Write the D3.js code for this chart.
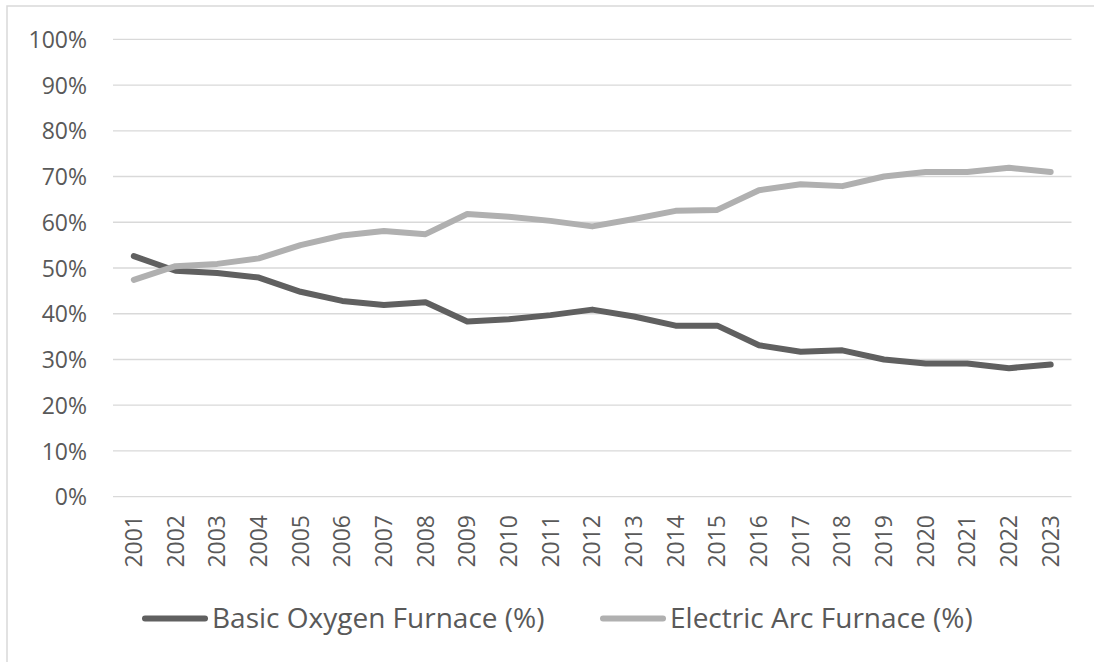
<!DOCTYPE html>
<html>
<head>
<meta charset="utf-8">
<script src="https://cdn.jsdelivr.net/npm/d3@7"></script>
<style>
  body { margin: 0; background: #ffffff; }
  svg { display: block; font-family: "Open Sans", sans-serif; }
</style>
</head>
<body>
<script>
// ! Data
const years = ["2001","2002","2003","2004","2005","2006","2007","2008","2009","2010","2011","2012",
  "2013","2014","2015","2016","2017","2018","2019","2020","2021","2022","2023"];
const basicOxygen = [52.6, 49.4, 48.9, 47.9, 44.8, 42.8, 41.9, 42.5, 38.3, 38.8, 39.7, 40.9,
  39.4, 37.4, 37.4, 33.1, 31.7, 32.0, 30.0, 29.1, 29.1, 28.1, 28.9];
const electricArc = [47.4, 50.4, 50.9, 52.1, 55.0, 57.1, 58.1, 57.4, 61.8, 61.2, 60.3, 59.1,
  60.7, 62.5, 62.7, 67.0, 68.3, 67.9, 70.0, 71.0, 71.0, 71.9, 71.0];
const yTicks = [0, 10, 20, 30, 40, 50, 60, 70, 80, 90, 100];
const seriesNames = ["Basic Oxygen Furnace (%)", "Electric Arc Furnace (%)"];

const width = 1094;
const height = 662;
const textColor = "#595959";
const lineColors = ["#606060", "#b0b0b0"];

const svg = d3.select("body").append("svg")
  .attr("width", width)
  .attr("height", height);

// ! Chart frame (cropped on right and bottom)
svg.append("rect")
  .attr("x", 7)
  .attr("y", 6)
  .attr("width", width + 20)
  .attr("height", height + 20)
  .attr("fill", "none")
  .attr("stroke", "#d9d9d9")
  .attr("stroke-width", 1.5);

// ! Scales
const xScale = d3.scaleBand().domain(years).range([113, 1071.5]);
const yScale = d3.scaleLinear().domain([0, 100]).range([496.7, 39.3]);

// ! Gridlines
svg.append("g")
  .selectAll("line")
  .data(yTicks)
  .enter()
  .append("line")
  .attr("x1", xScale.range()[0])
  .attr("x2", xScale.range()[1])
  .attr("y1", (d) => yScale(d))
  .attr("y2", (d) => yScale(d))
  .attr("stroke", "#d9d9d9")
  .attr("stroke-width", 1.3);

// ! Y axis labels
const yAxisG = svg.append("g")
  .attr("transform", "translate(87,0)")
  .call(d3.axisLeft(yScale).tickValues(yTicks).tickFormat((d) => d + "%").tickSize(0).tickPadding(0));
yAxisG.select(".domain").remove();
yAxisG.selectAll("text")
  .attr("fill", textColor)
  .style("font-size", "23px")
  .style("font-family", "Open Sans")
  .attr("dy", "0.35em");

// ! X axis labels (rotated)
const xAxisG = svg.append("g")
  .attr("transform", "translate(0,515)")
  .call(d3.axisBottom(xScale).tickSize(0).tickPadding(0));
xAxisG.select(".domain").remove();
xAxisG.selectAll("text")
  .attr("fill", textColor)
  .style("font-size", "23px")
  .style("font-family", "Open Sans")
  .attr("transform", "rotate(-90)")
  .attr("text-anchor", "end")
  .attr("x", 0)
  .attr("y", 0)
  .attr("dy", "0.35em");

// ! Lines
const line = d3.line()
  .x((d, i) => xScale(years[i]) + xScale.bandwidth() / 2)
  .y((d) => yScale(d));

[basicOxygen, electricArc].forEach((series, k) => {
  svg.append("path")
    .datum(series)
    .attr("d", line)
    .attr("fill", "none")
    .attr("stroke", lineColors[k])
    .attr("stroke-width", 6)
    .attr("stroke-linejoin", "round")
    .attr("stroke-linecap", "round");
});

// ! Legend
const legendX = [145, 603];
const legend = svg.append("g");
seriesNames.forEach((name, k) => {
  const g = legend.append("g").attr("transform", `translate(${legendX[k]},618.5)`);
  g.append("line")
    .attr("x1", 0)
    .attr("x2", 60)
    .attr("y1", 0)
    .attr("y2", 0)
    .attr("stroke", lineColors[k])
    .attr("stroke-width", 6)
    .attr("stroke-linecap", "round");
  g.append("text")
    .attr("x", 67)
    .attr("y", 0)
    .attr("dy", "0.35em")
    .attr("fill", textColor)
    .style("font-size", "28px")
    .text(name);
});
</script>
</body>
</html>
